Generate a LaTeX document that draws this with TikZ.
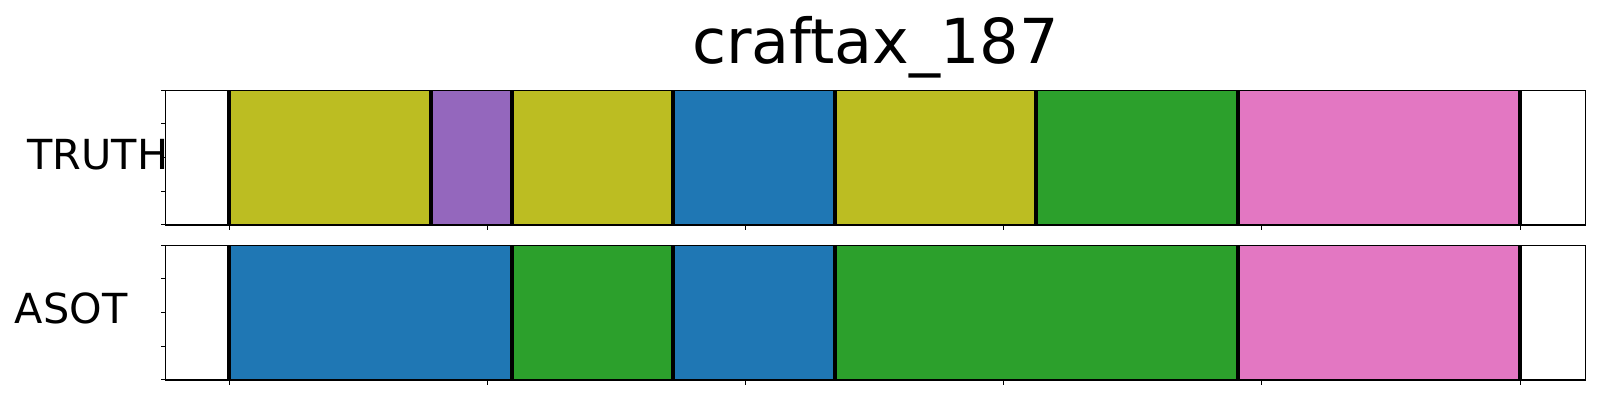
\documentclass[tikz,border=0pt]{standalone}
\usepackage{fontspec}
\setmainfont{DejaVu Sans}
\definecolor{tabolive}{HTML}{BCBD22}
\definecolor{tabpurple}{HTML}{9467BD}
\definecolor{tabblue}{HTML}{1F77B4}
\definecolor{tabgreen}{HTML}{2CA02C}
\definecolor{tabpink}{HTML}{E377C2}
\tikzset{
  framebox/.style={draw=black, line width=0.6pt},
  boundline/.style={draw=black, line width=2pt},
  tickline/.style={draw=black, line width=0.5pt},
  titletext/.style={font=\fontsize{31}{36}\selectfont, anchor=base, inner sep=0pt},
  rowlabel/.style={font=\fontsize{20.7}{24}\selectfont, anchor=base, inner sep=0pt}
}
\begin{document}
\begin{tikzpicture}[x=0.5pt,y=-0.5pt]
\useasboundingbox (0,0) rectangle (1600,400);
\fill[white] (0,0) rectangle (1600,400);
% title
\node[titletext] (title) at (875.5,63.3) {craftax\_187};
% TRUTH row
\foreach \a/\b/\c in {229/430.7/tabolive, 430.7/512/tabpurple, 512/672.5/tabolive, 672.5/834.8/tabblue, 834.8/1036/tabolive, 1036/1238/tabgreen, 1238/1520/tabpink}
  \fill[\c] (\a,90.3) rectangle (\b,225);
\foreach \x in {229,430.7,512,672.5,834.8,1036,1238,1520}
  \draw[boundline] (\x,90.3) -- (\x,225);
\draw[framebox] (165.3,90.3) rectangle (1585.7,225);
\foreach \k in {0,...,5}
  \draw[tickline] ({229+258.2*\k},225) -- ++(0,4.7);
\foreach \k in {0,...,4}
  \draw[tickline] (165.3,{90.3+33.675*\k}) -- ++(-4.7,0);
\node[rowlabel] (truth) at (97.8,169.3) {TRUTH};
% ASOT row
\foreach \a/\b/\c in {229/512/tabblue, 512/672.5/tabgreen, 672.5/834.8/tabblue, 834.8/1238/tabgreen, 1238/1520/tabpink}
  \fill[\c] (\a,245.3) rectangle (\b,380);
\foreach \x in {229,512,672.5,834.8,1238,1520}
  \draw[boundline] (\x,245.3) -- (\x,380);
\draw[framebox] (165.3,245.3) rectangle (1585.7,380);
\foreach \k in {0,...,5}
  \draw[tickline] ({229+258.2*\k},380) -- ++(0,4.7);
\foreach \k in {0,...,4}
  \draw[tickline] (165.3,{245.3+33.675*\k}) -- ++(-4.7,0);
\node[rowlabel] (asot) at (71.2,323.3) {ASOT};
\end{tikzpicture}
\end{document}
